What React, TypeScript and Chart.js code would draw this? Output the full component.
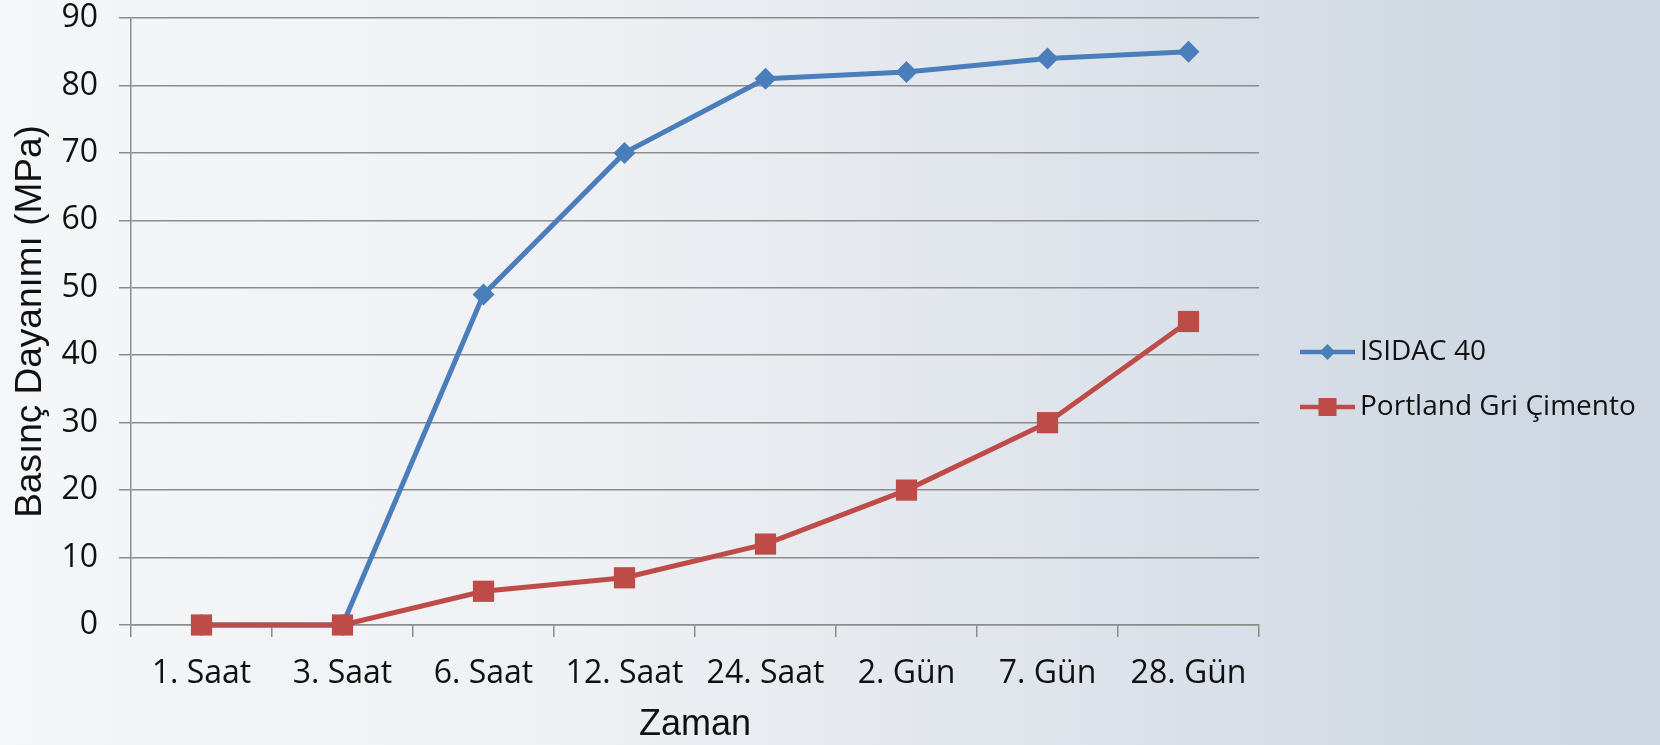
import React, { useEffect, useRef } from "react";
import { Chart, registerables } from "chart.js";

Chart.register(...registerables);

const categories = ["1. Saat", "3. Saat", "6. Saat", "12. Saat", "24. Saat", "2. Gün", "7. Gün", "28. Gün"];
const isidacValues = [0, 0, 49, 70, 81, 82, 84, 85];
const portlandValues = [0, 0, 5, 7, 12, 20, 30, 45];
const seriesNames = ["ISIDAC 40", "Portland Gri Çimento"];
const yTitle = "Basınç Dayanımı (MPa)";
const xTitle = "Zaman";

const BLUE = "#4a7ebb";
const RED = "#be4b48";
const GRID = "#8c8c8c";
const TEXT = "#111111";
const FONT = "'Open Sans', 'DejaVu Sans', sans-serif";
const TITLE_FONT = "'Liberation Sans', Arial, sans-serif";

const legendPlugin = {
  id: "customLegend",
  afterDraw(chart: any) {
    const ctx = chart.ctx;
    const x0 = 1300;
    const x1 = 1355;
    const ys = [352, 407];
    chart.data.datasets.forEach((ds: any, i: number) => {
      const y = ys[i];
      ctx.save();
      ctx.strokeStyle = ds.borderColor;
      ctx.lineWidth = 4.5;
      ctx.beginPath();
      ctx.moveTo(x0, y);
      ctx.lineTo(x1, y);
      ctx.stroke();
      const cx = (x0 + x1) / 2;
      ctx.fillStyle = ds.pointBackgroundColor;
      ctx.beginPath();
      if (ds.pointStyle === "rectRot") {
        const r = 8;
        ctx.moveTo(cx - r, y);
        ctx.lineTo(cx, y - r);
        ctx.lineTo(cx + r, y);
        ctx.lineTo(cx, y + r);
        ctx.closePath();
      } else {
        const s = 9;
        ctx.rect(cx - s, y - s, 2 * s, 2 * s);
      }
      ctx.fill();
      ctx.fillStyle = TEXT;
      ctx.font = `28px ${FONT}`;
      ctx.textBaseline = "middle";
      ctx.textAlign = "left";
      ctx.fillText(ds.label, 1360, y);
      ctx.restore();
    });
  },
};

export default function App() {
  const canvasRef = useRef<HTMLCanvasElement | null>(null);

  useEffect(() => {
    const canvas = canvasRef.current;
    if (!canvas) return;
    const chart = new Chart(canvas, {
      type: "line",
      data: {
        labels: categories,
        datasets: [
          {
            label: seriesNames[0],
            data: isidacValues,
            borderColor: BLUE,
            backgroundColor: BLUE,
            pointBackgroundColor: BLUE,
            pointBorderColor: BLUE,
            pointStyle: "rectRot",
            pointRadius: 11,
            pointBorderWidth: 0,
            borderWidth: 5,
            tension: 0,
            clip: false,
            order: 1,
          },
          {
            label: seriesNames[1],
            data: portlandValues,
            borderColor: RED,
            backgroundColor: RED,
            pointBackgroundColor: RED,
            pointBorderColor: RED,
            pointStyle: "rect",
            pointRadius: 15,
            pointBorderWidth: 0,
            borderWidth: 5,
            tension: 0,
            clip: false,
            order: 0,
          },
        ],
      },
      options: {
        responsive: false,
        animation: false,
        devicePixelRatio: 1,
        layout: { padding: { top: 18, right: 401, bottom: 0, left: 0 } },
        plugins: {
          legend: { display: false },
          tooltip: { enabled: false },
        },
        scales: {
          x: {
            type: "category",
            offset: true,
            grid: {
              offset: true,
              drawOnChartArea: false,
              drawTicks: true,
              tickLength: 12,
              color: GRID,
              lineWidth: 1.5,
            },
            border: { display: true, color: GRID, width: 1.5 },
            ticks: {
              color: TEXT,
              font: { family: FONT, size: 32, lineHeight: 1 },
              padding: 21,
              maxRotation: 0,
              autoSkip: false,
            },
            title: {
              display: true,
              text: xTitle,
              color: TEXT,
              font: { family: TITLE_FONT, size: 36, lineHeight: 1 },
              padding: { top: 0, bottom: 2 },
            },
            afterFit(scale: any) {
              scale.height = 120;
              scale.paddingLeft = 0;
              scale.paddingRight = 0;
            },
          },
          y: {
            min: 0,
            max: 90,
            ticks: {
              stepSize: 10,
              color: TEXT,
              font: { family: FONT, size: 32, lineHeight: 1.2 },
              padding: 21,
            },
            grid: {
              color: GRID,
              lineWidth: 1.5,
              tickLength: 12,
              drawTicks: true,
            },
            border: { display: true, color: GRID, width: 1.5 },
            title: {
              display: true,
              text: yTitle,
              color: TEXT,
              font: { family: TITLE_FONT, size: 37, lineHeight: 1 },
              padding: { top: 12, bottom: 0 },
            },
            afterFit(scale: any) {
              scale.width = 131;
              scale.paddingTop = 0;
              scale.paddingBottom = 0;
            },
          },
        },
      },
      plugins: [legendPlugin],
    });
    return () => chart.destroy();
  }, []);

  return (
    <div
      style={{
        position: "absolute",
        left: 0,
        top: 0,
        width: 1660,
        height: 745,
        background: "linear-gradient(to right, #f5f6f8 0%, #eef0f3 35%, #e0e5ec 62%, #d2dae4 85%, #cdd6e1 100%)",
      }}
    >
      <canvas ref={canvasRef} width={1660} height={745} style={{ display: "block" }} />
    </div>
  );
}
